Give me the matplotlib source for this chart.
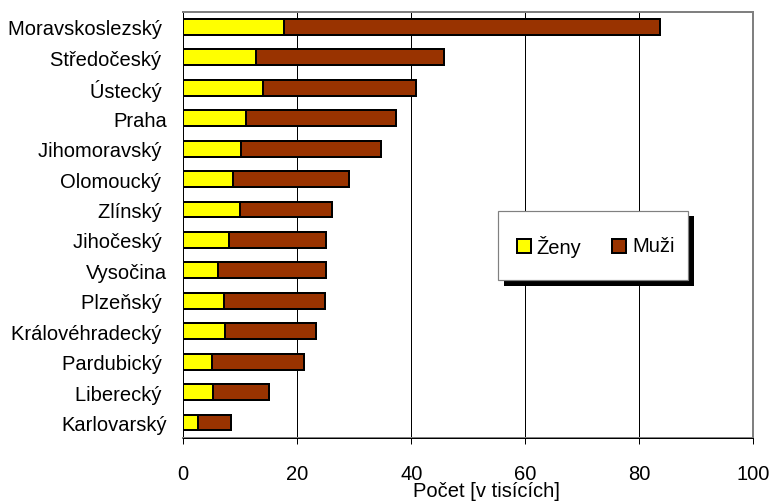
import matplotlib
matplotlib.use("Agg")
import matplotlib.pyplot as plt
from matplotlib.patches import Rectangle
from matplotlib.lines import Line2D

plt.rcParams['font.family'] = ['Liberation Sans', 'DejaVu Sans']

# Regions, sorted by total count (thousands)
regions = ["Moravskoslezský ", "Středočeský ", "Ústecký ", "Praha", "Jihomoravský ",
           "Olomoucký ", "Zlínský ", "Jihočeský ", "Vysočina", "Plzeňský ",
           "Královéhradecký ", "Pardubický ", "Liberecký ", "Karlovarský"]
zeny = [17.7, 12.7, 13.9, 11.0, 10.1, 8.8, 10.0, 8.0, 6.1, 7.1, 7.3, 5.1, 5.2, 2.6]
muzi = [65.9, 33.1, 27.0, 26.3, 24.5, 20.2, 16.0, 17.0, 19.0, 17.8, 15.9, 16.1, 9.9, 5.7]
series_names = ["Ženy", "Muži"]
series_colors = ["#FFFF00", "#993300"]
xticks = [0, 20, 40, 60, 80, 100]
xlabel = "Počet [v tisících]"

W, H = 776, 502
DPI = 100
fig = plt.figure(figsize=(W / DPI, H / DPI), dpi=DPI)
fig.patch.set_facecolor("white")

# plot area in pixels
x0, x1 = 183.3, 753.3
y_top, y_bot = 12.7, 438.7
ax = fig.add_axes([x0 / W, 1 - y_bot / H, (x1 - x0) / W, (y_bot - y_top) / H])

px = 72.0 / DPI  # points per pixel
fs = 14.5

ypos = list(range(len(regions)))
bar_h = 0.52
ax.barh(ypos, zeny, height=bar_h, color=series_colors[0], edgecolor="black",
        linewidth=2 * px, zorder=3)
ax.barh(ypos, muzi, left=zeny, height=bar_h, color=series_colors[1], edgecolor="black",
        linewidth=2 * px, zorder=3)

ax.set_xlim(0, 100)
ax.set_ylim(len(regions) - 0.5, -0.5)
ax.set_xticks(xticks)
ax.set_xticklabels([str(t) for t in xticks], fontsize=fs)
ax.set_yticks(ypos)
ax.set_yticklabels(regions, fontsize=fs)
ax.tick_params(axis="y", length=0, pad=16.3 * px)
ax.tick_params(axis="x", length=6 * px, width=1 * px, direction="out",
               pad=20 * px, color="black")

# vertical gridlines
for t in xticks[1:-1]:
    ax.axvline(t, color="black", linewidth=1 * px, zorder=1)

# plot area border
for side in ["top", "right"]:
    ax.spines[side].set_color("#808080")
    ax.spines[side].set_linewidth(2 * px)
ax.spines["left"].set_color("black")
ax.spines["left"].set_linewidth(1 * px)
ax.spines["bottom"].set_color("#808080")
ax.spines["bottom"].set_linewidth(2 * px)
ax.add_line(Line2D([0, 1], [0, 0], transform=ax.transAxes, color="black",
                   linewidth=1 * px, clip_on=False, zorder=5))

# x axis title
fig.text(486 / W, 1 - 492 / H, xlabel, fontsize=fs, ha="center", va="center")

# legend with drop shadow
def fig_rect(xa, ya, xb, yb, **kw):
    r = Rectangle((xa / W, 1 - yb / H), (xb - xa) / W, (yb - ya) / H,
                  transform=fig.transFigure, **kw)
    fig.add_artist(r)
    return r

fig_rect(504, 217, 694, 287, facecolor="black", edgecolor="none", zorder=10)
fig_rect(498.3, 211.7, 688.3, 281, facecolor="white", edgecolor="#808080",
         linewidth=1.2 * px, zorder=11)
legend_items = [(516.5, 536.0), (612.0, 632.0)]
cy = 246.5
for (mx, tx), name, col in zip(legend_items, series_names, series_colors):
    fig_rect(mx, cy - 7, mx + 14, cy + 7, facecolor=col, edgecolor="black",
             linewidth=2 * px, zorder=12)
    fig.text(tx / W, 1 - cy / H, name, fontsize=fs, ha="left", va="center", zorder=12)

fig.savefig("out.png", dpi=DPI)
